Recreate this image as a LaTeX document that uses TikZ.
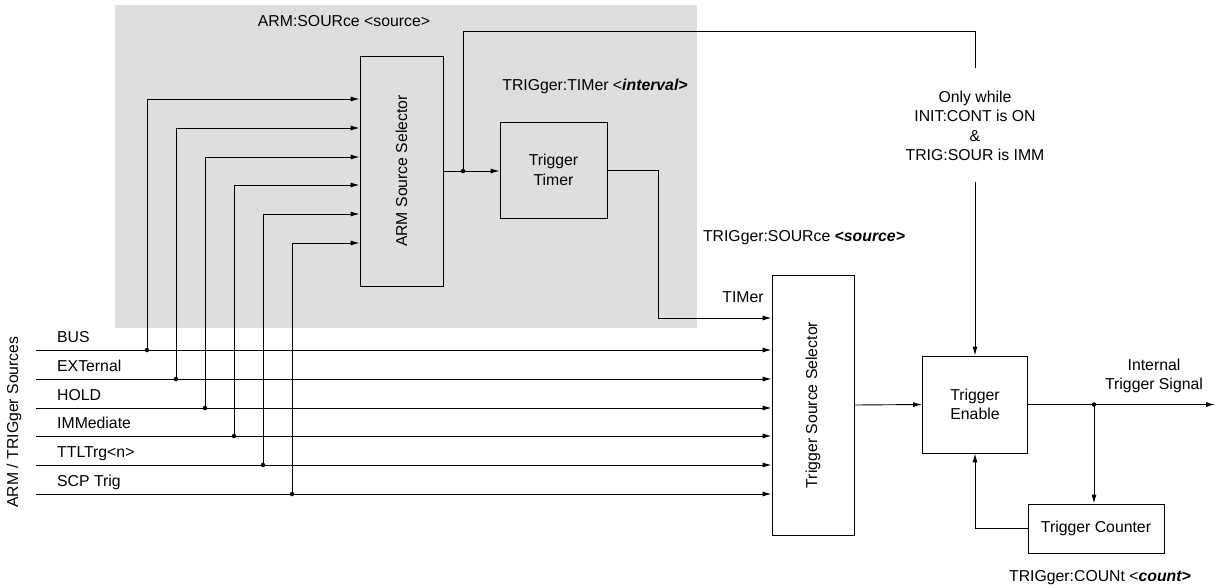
\documentclass[tikz,border=0pt]{standalone}
\usepackage{fontspec}
\setmainfont{Liberation Sans}
\usetikzlibrary{arrows.meta,calc}
\begin{document}
\begin{tikzpicture}[x=1pt,y=-1pt,
  every node/.style={font=\fontsize{15.8}{19.5}\selectfont},
  wire/.style={line width=0.9pt},
  arr/.style={wire,-{Latex[length=9pt,width=5pt]}},
  blk/.style={draw,line width=0.9pt,inner sep=0pt,align=center},
  lbl/.style={inner sep=0pt},
  dot/.style={circle,fill,inner sep=0pt,minimum size=4.5pt}
]
\useasboundingbox (0,0) rectangle (1221,587);
\fill[black!13] (115,5) rectangle (697,328);

% blocks
\node[blk,minimum width=83pt,minimum height=230pt] (asel) at (401.5,171) {};
\node[rotate=90] (aseltxt) at (asel.center) {ARM Source Selector};
\node[blk,minimum width=107pt,minimum height=96pt] (timer) at (553.5,170) {Trigger\\Timer};
\node[blk,minimum width=82pt,minimum height=260pt] (tss) at (813,405) {};
\node[rotate=90] (tsstxt) at (tss.center) {Trigger Source Selector};
\node[blk,minimum width=105pt,minimum height=97pt] (ten) at (975,404.5) {Trigger\\Enable};
\node[blk,minimum width=136pt,minimum height=49pt] (tcnt) at (1096,528.5) {Trigger Counter};

% labels
\node[lbl] (l1) at (344,21) {ARM:SOURce <source>};
\node[lbl] (l2) at (595,86) {TRIGger:TIMer <\textbf{\textit{interval>}}};
\node[lbl] (l3) at (804,238) {TRIGger:SOURce \textbf{\textit{<source>}}};
\node[lbl] (l4) at (743,297) {TIMer};
\node[lbl,align=center] (l5) at (975,126) {Only while\\INIT:CONT is ON\\\&\\TRIG:SOUR is IMM};
\node[lbl,align=center] (l6) at (1154,376) {Internal\\Trigger Signal};
\node[lbl] (l7) at (1100,578) {TRIGger:COUNt <\textbf{\textit{count>}}};
\node[lbl,rotate=90] (l8) at (14,422) {ARM / TRIGger Sources};

% source lines
\foreach \i/\y/\jx/\ay/\t in {1/350/147/99/BUS, 2/379/176/128/EXTernal, 3/408/205/157/HOLD, 4/436/234/185/IMMediate, 5/465/263/214/TTLTrg<n>, 6/494/292/243/SCP Trig}{
  \coordinate (s\i) at (36,\y);
  \coordinate (j\i) at (\jx,\y);
  \node[lbl,anchor=base west] (t\i) at (57,\y-8) {\t};
  \draw[arr] (s\i) -- (tss.west |- s\i);
  \draw[arr] (j\i) |- (asel.west |- 0,\ay);
  \node[dot] (d\i) at (j\i) {};
}

% timer path
\draw[arr] (timer.east) -| (658,318) -- (tss.west |- 0,318);
% arm out
\coordinate (jt) at (463,171);
\draw[arr] (asel.east) -- (timer.west |- asel.east);
\node[dot] (dt) at (jt) {};
\coordinate (ca) at (975,68);
\coordinate (cb) at (975,182);
\draw[wire] (jt) -- (jt |- 0,31) -| (ca);
\draw[arr] (cb) -- (ten.north);
% tss to enable
\draw[arr] (tss.east) -- (ten.west);
% enable out
\coordinate (out) at (1215,404.5);
\coordinate (jo) at (1094,404.5);
\draw[arr] (ten.east) -- (out);
\node[dot] (do) at (jo) {};
\draw[arr] (jo) -- (jo |- tcnt.north);
\draw[arr] (tcnt.west) -| (ten.south);
\end{tikzpicture}
\end{document}
